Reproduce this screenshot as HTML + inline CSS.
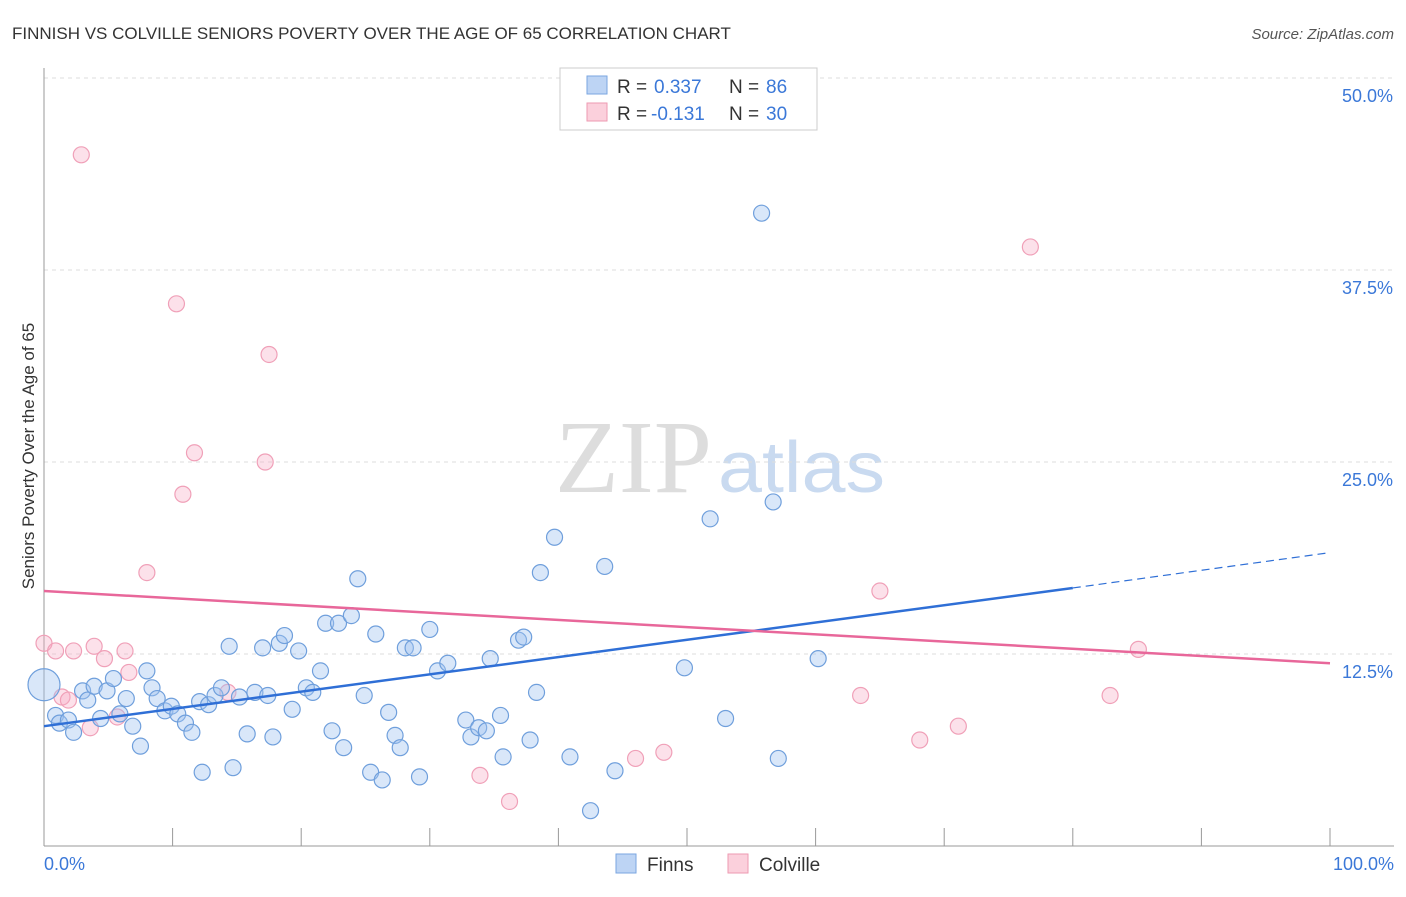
<!DOCTYPE html>
<html><head><meta charset="utf-8"><style>
body{margin:0;background:#fff;font-family:"Liberation Sans",sans-serif;}
</style></head><body>
<svg width="1406" height="892" xmlns="http://www.w3.org/2000/svg">
<text x="12" y="39" font-size="17" fill="#333">FINNISH VS COLVILLE SENIORS POVERTY OVER THE AGE OF 65 CORRELATION CHART</text>
<text x="1394" y="39" font-size="15" fill="#555" font-style="italic" text-anchor="end">Source: ZipAtlas.com</text>
<text x="555" y="492" font-size="104" fill="#ddd" textLength="157" lengthAdjust="spacingAndGlyphs" font-family="Liberation Serif">ZIP</text>
<text x="718" y="492" font-size="72" fill="#c9daf0" textLength="167" lengthAdjust="spacingAndGlyphs">atlas</text>
<g id="grid"></g><g id="axes"></g><g id="marks"></g>
<text x="34" y="456" font-size="17" fill="#333" text-anchor="middle" transform="rotate(-90 34 456)">Seniors Poverty Over the Age of 65</text>
<text x="44" y="870" font-size="18" fill="#3b78d8">0.0%</text>
<text x="1394" y="870" font-size="18" fill="#3b78d8" text-anchor="end">100.0%</text>
<g>
<rect x="560" y="68" width="257" height="62" fill="#fff" stroke="#ccc"/>
<rect x="587" y="76" width="20" height="18" fill="#bdd4f4" stroke="#7aa6e0"/>
<rect x="587" y="103" width="20" height="18" fill="#fbd0dc" stroke="#ee9ab2"/>
<text x="617" y="93" font-size="19" fill="#333">R =</text>
<text x="654" y="93" font-size="19" fill="#3b78d8">0.337</text>
<text x="729" y="93" font-size="19" fill="#333">N =</text>
<text x="766" y="93" font-size="19" fill="#3b78d8">86</text>
<text x="617" y="120" font-size="19" fill="#333">R =</text>
<text x="651" y="120" font-size="19" fill="#3b78d8">-0.131</text>
<text x="729" y="120" font-size="19" fill="#333">N =</text>
<text x="766" y="120" font-size="19" fill="#3b78d8">30</text>
</g>
<g>
<rect x="616" y="854" width="20" height="19" fill="#bdd4f4" stroke="#7aa6e0"/>
<text x="647" y="871" font-size="19" fill="#333">Finns</text>
<rect x="728" y="854" width="20" height="19" fill="#fbd0dc" stroke="#ee9ab2"/>
<text x="759" y="871" font-size="19" fill="#333">Colville</text>
</g>
</svg>
<script>
const yTicks=[12.5,25,37.5,50];
const yTickLabels=["12.5%","25.0%","37.5%","50.0%"];
const finnsX=[0,0.9,1.2,1.9,2.3,3.0,3.4,3.9,4.4,4.9,5.4,5.9,6.4,6.9,7.5,8.0,8.4,8.8,9.4,9.9,10.4,11.0,11.5,12.1,12.3,12.8,13.3,13.8,14.4,14.7,15.2,15.8,16.4,17.0,17.4,17.8,18.3,18.7,19.3,19.8,20.4,20.9,21.5,21.9,22.4,22.9,23.3,23.9,24.4,24.9,25.4,25.8,26.3,26.8,27.3,27.7,28.1,28.7,29.2,30.0,30.6,31.4,32.8,33.2,33.8,34.4,34.7,35.5,35.7,36.9,37.3,37.8,38.3,38.6,39.7,40.9,42.5,43.6,44.4,49.8,51.8,53.0,55.8,56.7,57.1,60.2];
const finnsY=[10.5,8.5,8.0,8.2,7.4,10.1,9.5,10.4,8.3,10.1,10.9,8.6,9.6,7.8,6.5,11.4,10.3,9.6,8.8,9.1,8.6,8.0,7.4,9.4,4.8,9.2,9.8,10.3,13.0,5.1,9.7,7.3,10.0,12.9,9.8,7.1,13.2,13.7,8.9,12.7,10.3,10.0,11.4,14.5,7.5,14.5,6.4,15.0,17.4,9.8,4.8,13.8,4.3,8.7,7.2,6.4,12.9,12.9,4.5,14.1,11.4,11.9,8.2,7.1,7.7,7.5,12.2,8.5,5.8,13.4,13.6,6.9,10.0,17.8,20.1,5.8,2.3,18.2,4.9,11.6,21.3,8.3,41.2,22.4,5.7,12.2];
const colX=[0,0.9,1.4,1.9,2.3,3.6,3.9,4.7,5.7,6.3,6.6,8.0,10.3,10.8,11.7,14.3,17.2,17.5,2.9,33.9,36.2,46.0,48.2,63.5,65.0,68.1,71.1,76.7,82.9,85.1];
const colY=[13.2,12.7,9.7,9.5,12.7,7.7,13.0,12.2,8.4,12.7,11.3,17.8,35.3,22.9,25.6,10.0,25.0,32.0,45.0,4.6,2.9,5.7,6.1,9.8,16.6,6.9,7.8,39.0,9.8,12.8];
const finnsLine=[[0,7.8],[80,16.8],[100,19.1]];
const colLine=[[0,16.6],[100,11.9]];
const X=v=>44+v/100*1286, Y=v=>846-v/12.5*192;
const NS="http://www.w3.org/2000/svg";
function mk(t,a,p){const e=document.createElementNS(NS,t);for(const k in a)e.setAttribute(k,a[k]);document.getElementById(p).appendChild(e);return e;}
yTicks.forEach((t,i)=>{
 const l=mk('line',{x1:44,x2:1394,y1:Y(t),y2:Y(t),stroke:'#ddd','stroke-dasharray':'4,4'},'grid');
 
 
 const tx=mk('text',{x:1393,y:Y(t)+24,'font-size':18,fill:'#3b78d8','text-anchor':'end'},'grid');
 tx.textContent=yTickLabels[i];
 
 
});
const ax=mk('line',{x1:44,x2:44,y1:68,y2:846,stroke:'#999'},'axes');


const bx=mk('line',{x1:44,x2:1394,y1:846,y2:846,stroke:'#999'},'axes');


for(let i=0;i<=10;i++){const t=mk('line',{x1:X(i*10),x2:X(i*10),y1:828,y2:846,stroke:'#999'},'axes');
 
 }
colX.forEach((x,i)=>{const c=mk('circle',{cx:X(x),cy:Y(colY[i]),r:8,fill:'rgba(246,170,195,0.35)',stroke:'#f0a0b8','stroke-width':1.2},'marks');
 
 });
finnsX.forEach((x,i)=>{const c=mk('circle',{cx:X(x),cy:Y(finnsY[i]),r:i==0?16:8,fill:'rgba(160,195,240,0.4)',stroke:'#6f9fdc','stroke-width':1.2},'marks');
 
 });
let l1=mk('line',{x1:X(finnsLine[0][0]),y1:Y(finnsLine[0][1]),x2:X(finnsLine[1][0]),y2:Y(finnsLine[1][1]),stroke:'#2f6fd6','stroke-width':2.5},'marks');


let l2=mk('line',{x1:X(finnsLine[1][0]),y1:Y(finnsLine[1][1]),x2:X(finnsLine[2][0]),y2:Y(finnsLine[2][1]),stroke:'#2f6fd6','stroke-width':1.2,'stroke-dasharray':'8,5'},'marks');


let l3=mk('line',{x1:X(colLine[0][0]),y1:Y(colLine[0][1]),x2:X(colLine[1][0]),y2:Y(colLine[1][1]),stroke:'#e8679a','stroke-width':2.5},'marks');


</script>
</body></html>
